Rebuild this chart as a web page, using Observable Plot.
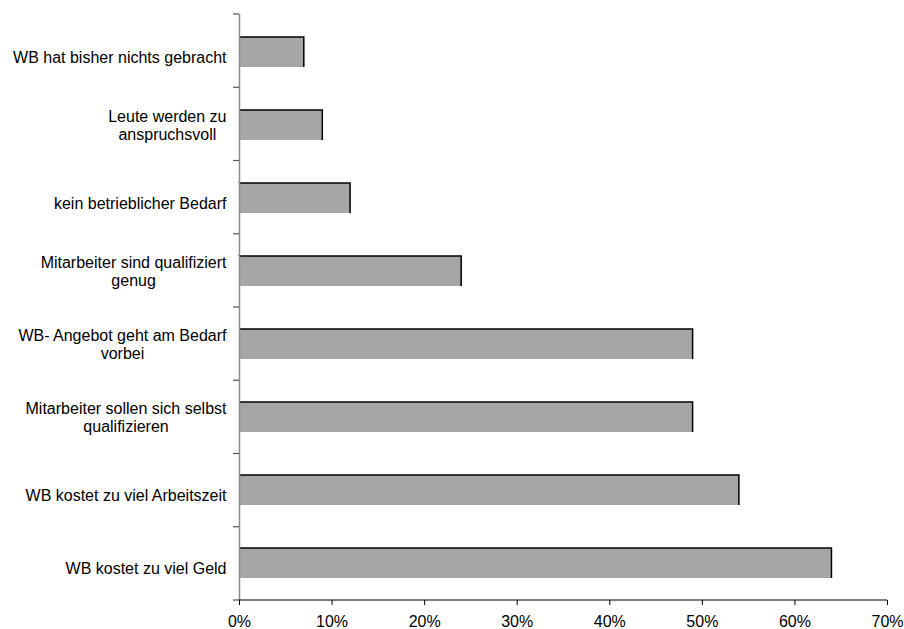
<!DOCTYPE html>
<html>
<head>
<meta charset="utf-8">
<script src="https://cdn.jsdelivr.net/npm/d3@7"></script>
<script src="https://cdn.jsdelivr.net/npm/@observablehq/plot@0.6"></script>
<style>
  html, body { margin: 0; padding: 0; background: #fff; }
  #chart svg text { font-family: "Liberation Sans", Arial, sans-serif; font-size: 16px; fill: #000; }
</style>
</head>
<body>
<div id="chart"></div>
<script>
// Categories (top to bottom), "\n" marks the line break of the label
const categories = [
  "WB hat bisher nichts gebracht",
  "Leute werden zu\nanspruchsvoll",
  "kein betrieblicher Bedarf",
  "Mitarbeiter sind qualifiziert\ngenug",
  "WB- Angebot geht am Bedarf\nvorbei",
  "Mitarbeiter sollen sich selbst\nqualifizieren",
  "WB kostet zu viel Arbeitszeit",
  "WB kostet zu viel Geld"
];
// Share in percent
const values = [7, 9, 12, 24, 49, 49, 54, 64];
// X tick values (percent)
const xTicks = [0, 10, 20, 30, 40, 50, 60, 70];

const data = categories.map((c, i) => ({category: c, value: values[i]}));

const W = 904, H = 629, mL = 239, mR = 17, mT = 14, mB = 29;

// Axis line along the bottom + y ticks between the category bands
function axisDecor(index, scales, vals, dims) {
  const g = d3.create("svg:g");
  const n = categories.length;
  const top = mT, bottom = H - mB;
  for (let k = 0; k <= n; k++) {
    const y = top + k * (bottom - top) / n;
    g.append("line")
      .attr("x1", mL - 6).attr("x2", mL)
      .attr("y1", y).attr("y2", y)
      .attr("stroke", "#555").attr("stroke-width", 1.2);
  }
  g.append("line")
    .attr("x1", mL).attr("x2", W - mR)
    .attr("y1", bottom).attr("y2", bottom)
    .attr("stroke", "#000").attr("stroke-width", 1.2);
  return g.node();
}

const chart = Plot.plot({
  width: W,
  height: H,
  marginLeft: mL,
  marginRight: mR,
  marginTop: mT,
  marginBottom: mB,
  style: {background: "white", color: "black", fontFamily: "Liberation Sans, Arial, sans-serif", fontSize: "16px", overflow: "visible"},
  x: {domain: [0, 70], ticks: xTicks, tickFormat: d => d + "%", tickSize: 5, tickPadding: 10, label: null},
  y: {domain: categories, paddingInner: 0.59, paddingOuter: 0.295, align: 0.5, tickSize: 0, tickPadding: 13, label: null},
  marks: [
    Plot.barX(data, {x: "value", y: "category", fill: "#a6a6a6", stroke: "black", strokeWidth: 1.5}),
    Plot.ruleX([0], {stroke: "#8c8c8c", strokeWidth: 1.5}),
    axisDecor
  ]
});

document.getElementById("chart").appendChild(chart);

// Only the top and right edges of each bar are outlined
chart.querySelectorAll('g[aria-label="bar"] rect').forEach(r => {
  const w = +r.getAttribute("width"), h = +r.getAttribute("height");
  r.setAttribute("stroke-dasharray", `${w + h} ${w + h}`);
});

// Multi-line y labels: right-aligned block, lines centred within it
const SVGNS = "http://www.w3.org/2000/svg";
const labelTexts = chart.querySelectorAll('[aria-label="y-axis tick label"] text, [aria-label="y-axis"] text');
labelTexts.forEach(t => {
  const tsp = t.querySelectorAll("tspan");
  let lines = tsp.length ? Array.from(tsp, s => s.textContent) : t.textContent.split("\n");
  lines = lines.filter(s => s.length);
  const tx = +(t.getAttribute("x") || 0);
  t.removeAttribute("dy");
  while (t.firstChild) t.removeChild(t.firstChild);
  const n = lines.length, lh = 1.12;
  const spans = lines.map((line, i) => {
    const s = document.createElementNS(SVGNS, "tspan");
    s.textContent = line;
    s.setAttribute("x", tx);
    s.setAttribute("dy", i === 0 ? `${0.32 - (n - 1) * lh / 2}em` : `${lh}em`);
    t.appendChild(s);
    return s;
  });
  if (n > 1) {
    const widths = spans.map(s => s.getComputedTextLength());
    const maxW = Math.max(...widths);
    t.setAttribute("text-anchor", "middle");
    t.style.textAnchor = "middle";
    spans.forEach(s => s.setAttribute("x", tx - maxW / 2));
  }
});
</script>
</body>
</html>
